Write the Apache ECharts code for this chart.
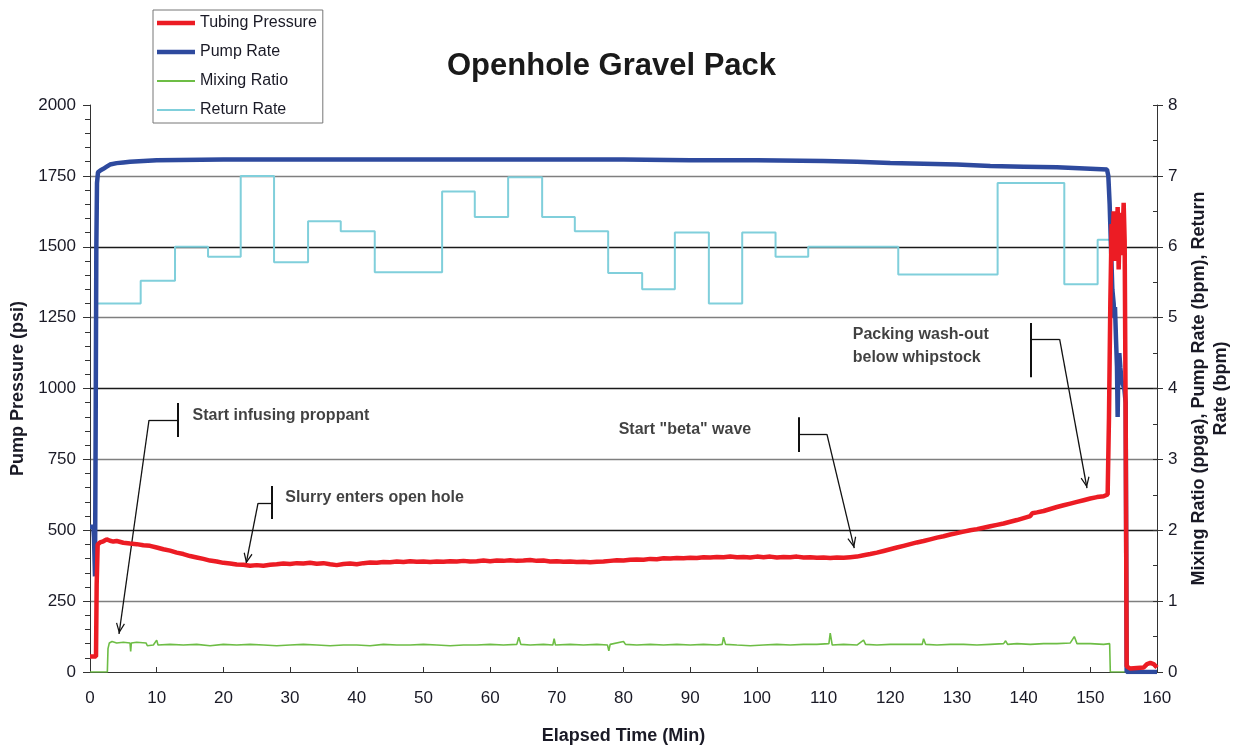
<!DOCTYPE html>
<html>
<head>
<meta charset="utf-8">
<script src="https://cdn.jsdelivr.net/npm/echarts@6/dist/echarts.min.js"></script>
<style>
  html, body { margin: 0; padding: 0; background: #ffffff; }
  #chart { width: 1235px; height: 746px; }
</style>
</head>
<body>
<div id="chart"></div>
<script>
// ---- Treatment record: [elapsed minutes, value] ----
const seriesNames = ['Tubing Pressure', 'Pump Rate', 'Mixing Ratio', 'Return Rate'];

// Tubing pressure, psi (left axis)
const tubingPressure = [
  [0,55],[0.9,55],[1.0,310],[1.15,450],[1.5,457],[2,461],[2.5,468],[3,463],[3.5,460],[4,462],
  [5,456],[6,453],[7,451],[8,447],[9,445],[10,439],[11,433],[12,428],[13,421],[14,416],
  [15,409],[16,404],[17,399],[18,393],[19,390],[20,385],[21,383],[22,379],[23,378],[24,375],
  [25,377],[26,375],[27,378],[28,380],[29,383],[30,381],[31,384],[32,383],[33,385],[34,382],
  [35,384],[36,380],[37,377],[38,381],[39,383],[40,380],[41,384],[42,386],[43,385],[44,388],
  [45,387],[46,390],[47,388],[48,391],[49,389],[50,390],[51,388],[52,390],[53,389],[54,391],
  [55,390],[56,392],[57,390],[58,391],[59,393],[60,391],[61,393],[62,392],[63,394],[64,392],
  [65,393],[66,395],[67,392],[68,393],[69,390],[70,391],[71,389],[72,390],[73,388],[74,389],
  [75,387],[76,389],[77,390],[78,392],[79,394],[80,393],[81,396],[82,397],[83,396],[84,399],
  [85,398],[86,401],[87,400],[88,402],[89,401],[90,403],[91,402],[92,405],[93,404],[94,406],
  [95,405],[96,407],[97,405],[98,406],[99,404],[100,407],[101,405],[102,407],[103,404],[104,406],
  [105,405],[106,407],[107,404],[108,405],[109,403],[110,404],[111,402],[112,404],[113,403],[114,405],
  [115,407],[116,412],[117,416],[118,421],[119,427],[120,433],[121,439],[122,445],[123,451],[124,457],
  [125,462],[126,468],[127,474],[128,479],[129,485],[130,490],[131,495],[132,500],[133,504],[134,509],
  [135,514],[136,519],[137,524],[138,530],[139,536],[140,543],[141,550],[141.3,560],[142,563],[143,568],
  [144,575],[145,582],[146,588],[147,594],[148,600],[149,606],[150,612],[151,617],[152,620],[152.6,626],
  [152.8,900],[153.0,1300],[153.2,1580],[153.35,1510],[153.5,1625],[153.65,1450],[153.8,1600],[153.95,1500],
  [154.1,1640],[154.25,1420],[154.4,1560],[154.55,1470],[154.7,1620],[154.85,1540],[155.0,1655],[155.15,1520],
  [155.3,900],[155.45,20],[156,12],[157,14],[158,16],[158.5,28],[159,32],[159.5,28],[160,16]
];

// Pump rate, bpm (right axis)
const pumpRate = [
  [0,2.05],[0.5,2.05],[0.6,1.9],[0.75,1.35],[0.85,3.5],[0.95,6.0],[1.05,6.9],[1.2,7.05],[1.6,7.08],[2,7.1],
  [2.5,7.13],[3,7.16],[4,7.18],[5,7.19],[6,7.2],[8,7.21],[10,7.22],[20,7.23],[30,7.23],[40,7.23],
  [50,7.23],[60,7.23],[70,7.23],[80,7.23],[90,7.22],[100,7.22],[110,7.21],[115,7.2],[120,7.18],[125,7.17],
  [130,7.16],[135,7.14],[140,7.13],[145,7.12],[150,7.1],[152.5,7.09],[152.7,7.0],[152.9,6.6],[153.1,6.0],[153.3,5.4],
  [153.5,5.2],[153.6,5.0],[153.7,5.15],[153.85,4.7],[154.0,4.3],[154.1,3.6],[154.2,4.3],[154.35,4.5],[154.5,4.3],[154.7,4.1],
  [154.9,4.05],[155.1,4.0],[155.3,3.8],[155.45,0],[160,0]
];

// Mixing ratio, ppga (right axis)
const mixingRatio = [
  [0,0],[2.6,0],[2.7,0.33],[2.9,0.41],[3.3,0.43],[4,0.41],[5,0.42],[6,0.41],[6.1,0.29],[6.2,0.41],
  [7,0.42],[8.4,0.41],[8.6,0.37],[9.5,0.38],[10,0.45],[10.2,0.38],[12,0.39],[14,0.38],[16,0.39],[18,0.37],
  [20,0.39],[22,0.38],[24,0.39],[26,0.38],[28,0.37],[30,0.38],[32,0.39],[34,0.38],[36,0.37],[38,0.38],
  [40,0.38],[42,0.37],[44,0.39],[46,0.38],[48,0.38],[50,0.39],[52,0.38],[54,0.37],[56,0.38],[58,0.38],
  [60,0.39],[62,0.38],[64,0.39],[64.3,0.49],[64.6,0.39],[66,0.38],[68,0.39],[69.4,0.38],[69.6,0.47],[69.8,0.38],
  [72,0.39],[74,0.38],[76,0.39],[77.6,0.38],[77.8,0.3],[78,0.39],[80,0.43],[80.3,0.39],[82,0.38],[84,0.39],
  [86,0.38],[88,0.39],[90,0.38],[92,0.39],[94,0.38],[94.8,0.39],[95,0.49],[95.3,0.39],[97,0.38],[99,0.37],
  [101,0.38],[103,0.39],[105,0.38],[107,0.39],[109,0.39],[110.8,0.4],[111,0.55],[111.3,0.38],[113,0.39],[115,0.38],
  [116,0.45],[116.3,0.39],[118,0.38],[120,0.39],[122,0.39],[124.8,0.39],[125,0.47],[125.3,0.39],[127,0.38],[129,0.39],
  [131,0.39],[133,0.38],[135,0.39],[137,0.4],[137.3,0.44],[137.6,0.39],[139,0.4],[141,0.39],[143,0.4],[145,0.4],
  [147,0.41],[147.6,0.5],[148,0.4],[150,0.4],[152,0.39],[152.9,0.4],[153,0],[160,0]
];

// Return rate, bpm (right axis) - each value holds until the next time
const returnRate = [
  [1.0,5.2],[7.6,5.52],[12.75,6.0],[17.7,5.86],[22.6,7.0],[27.6,5.78],[32.7,6.36],[37.6,6.22],
  [42.7,5.64],[52.8,6.78],[57.7,6.42],[62.7,6.98],[67.8,6.42],[72.7,6.22],[77.7,5.63],[82.8,5.4],
  [87.7,6.2],[92.8,5.2],[97.8,6.2],[102.8,5.86],[107.7,6.0],[121.2,5.61],[136.1,6.9],[146.1,5.47],
  [151.1,6.1],[153.0,6.1]
];

// Event notes, in [minutes, psi]
const calloutText = [
  'Start infusing proppant',
  'Slurry enters open hole',
  'Start "beta" wave',
  'Packing wash-out\nbelow whipstock'
];
const calloutTextAt = [[15.3, 906], [29.2, 614], [79.2, 854], [114.3, 1148]];
const calloutBar    = [[13.2, 949, 829], [27.3, 656, 540], [106.3, 899, 776], [141.1, 1231, 1040]];
const calloutBend   = [[8.85, 889], [25.2, 596], [110.5, 839], [145.4, 1174]];
const calloutTip    = [[4.35, 134], [23.4, 381], [114.6, 437], [149.5, 649]];

// ---- Styling ----
const FONT = '"Liberation Sans", Arial, Helvetica, sans-serif';
const TEXT = '#1a1a26';
const AXIS = '#333333';
const GRID_GREY = '#7f7f7f';
const GRID_DARK = '#1a1a1a';
const NONE = 'rgba(0,0,0,0)';
// one colour per horizontal line 0, 250, ..., 2000
const gridColors = [NONE, GRID_GREY, GRID_DARK, GRID_GREY, GRID_DARK, GRID_GREY, GRID_DARK, GRID_GREY, NONE];

const COLORS = {
  'Tubing Pressure': '#ec1c24',
  'Pump Rate': '#2e4a9e',
  'Mixing Ratio': '#6dbd45',
  'Return Rate': '#80cfdb'
};
const WIDTHS = { 'Tubing Pressure': 4.5, 'Pump Rate': 4.5, 'Mixing Ratio': 1.6, 'Return Rate': 2 };

// plain horizontal bar legend sample inside a 38 x 14 box
function legendIcon(th) {
  const y0 = 7 - th / 2, y1 = 7 + th / 2;
  return 'path://M0,0 L0.01,0 L0,0.01 Z M0,' + y0 + ' L38,' + y0 + ' L38,' + y1 + ' L0,' + y1 +
         ' Z M38,14 L37.99,14 L38,13.99 Z';
}

// open arrow head; the tip sits at the symbol centre
const ARROW = 'path://M5,0 L5.02,0.02 L4.98,0.02 Z M5,11 L10,21 L8.8,21.6 L5,14 L1.2,21.6 L0,21 Z';

const calloutLines = [];
calloutText.forEach(function (t, i) {
  const bar = calloutBar[i], bend = calloutBend[i], tip = calloutTip[i];
  calloutLines.push([{ coord: [bar[0], bar[1]], lineStyle: { width: 2 } }, { coord: [bar[0], bar[2]] }]);
  calloutLines.push([{ coord: [bar[0], bend[1]] }, { coord: bend }]);
  calloutLines.push([{ coord: bend }, { coord: tip, symbol: ARROW, symbolSize: [9, 22] }]);
});

function plain(v) { return String(v); }

function lineSeries(name, data, yAxisIndex, z, extra) {
  return Object.assign({
    name: name,
    type: 'line',
    yAxisIndex: yAxisIndex,
    data: data,
    symbol: 'none',
    showSymbol: false,
    silent: true,
    lineStyle: { color: COLORS[name], width: WIDTHS[name] },
    itemStyle: { color: COLORS[name] },
    z: z
  }, extra || {});
}

const chart = echarts.init(document.getElementById('chart'), null, { renderer: 'canvas' });

chart.setOption({
  animation: false,
  backgroundColor: '#ffffff',
  title: {
    text: 'Openhole Gravel Pack',
    left: 442,
    top: 46,
    textStyle: { fontFamily: FONT, fontSize: 31, fontWeight: 'bold', color: '#1a1a1a' }
  },
  legend: {
    data: seriesNames.map(function (n) {
      return { name: n, icon: legendIcon(WIDTHS[n] < 2 ? 2 : WIDTHS[n]), itemStyle: { color: COLORS[n] } };
    }),
    orient: 'vertical',
    left: 153,
    top: 10,
    padding: [5, 6, 5, 4],
    itemWidth: 38,
    itemHeight: 14,
    itemGap: 13,
    borderColor: '#777777',
    borderWidth: 1,
    selectedMode: false,
    textStyle: { fontFamily: FONT, fontSize: 16, color: TEXT }
  },
  grid: { left: 90, right: 78, top: 105, bottom: 74, containLabel: false, outerBoundsMode: 'none' },
  xAxis: {
    type: 'value',
    min: 0, max: 160, interval: 10,
    name: 'Elapsed Time (Min)',
    nameLocation: 'middle',
    nameGap: 55,
    nameTextStyle: { fontFamily: FONT, fontSize: 18, fontWeight: 'bold', color: TEXT },
    axisLine: { show: true, lineStyle: { color: AXIS, width: 1 } },
    axisTick: { show: true, inside: true, length: 5, lineStyle: { color: AXIS } },
    axisLabel: { fontFamily: FONT, fontSize: 17, color: TEXT, margin: 18, formatter: plain },
    splitLine: { show: false }
  },
  yAxis: [
    {
      type: 'value',
      position: 'left',
      min: 0, max: 2000, interval: 250,
      name: 'Pump Pressure (psi)',
      nameLocation: 'middle',
      nameRotate: 90,
      nameGap: 53,
      nameTextStyle: { fontFamily: FONT, fontSize: 18, fontWeight: 'bold', color: TEXT },
      axisLine: { show: true, lineStyle: { color: AXIS, width: 1 } },
      axisTick: { show: true, length: 7, lineStyle: { color: AXIS } },
      minorTick: { show: true, splitNumber: 5, length: 5, lineStyle: { color: AXIS } },
      axisLabel: { fontFamily: FONT, fontSize: 17, color: TEXT, margin: 14, formatter: plain },
      splitLine: { show: true, lineStyle: { color: gridColors, width: 1.3 } }
    },
    {
      type: 'value',
      position: 'right',
      min: 0, max: 8, interval: 1,
      name: 'Mixing Ratio (ppga), Pump Rate (bpm), Return\nRate (bpm)',
      nameLocation: 'middle',
      nameRotate: 90,
      nameGap: 26,
      nameTextStyle: { fontFamily: FONT, fontSize: 18, fontWeight: 'bold', color: TEXT, lineHeight: 22, align: 'center' },
      axisLine: { show: true, lineStyle: { color: AXIS, width: 1 } },
      axisTick: { show: true, length: 6, lineStyle: { color: AXIS } },
      axisLabel: { fontFamily: FONT, fontSize: 17, color: TEXT, margin: 11, formatter: plain },
      splitLine: { show: false }
    },
    {
      // inner half-unit ticks on the right-hand scale
      type: 'value',
      position: 'right',
      min: 0, max: 8, interval: 0.5,
      axisLine: { show: false },
      axisTick: { show: true, inside: true, length: 4, lineStyle: { color: AXIS } },
      axisLabel: { show: false },
      splitLine: { show: false }
    }
  ],
  series: [
    lineSeries('Return Rate', returnRate, 1, 2, { step: 'end' }),
    lineSeries('Mixing Ratio', mixingRatio, 1, 3),
    lineSeries('Pump Rate', pumpRate, 1, 4),
    lineSeries('Tubing Pressure', tubingPressure, 0, 5),
    {
      name: 'notes',
      type: 'scatter',
      yAxisIndex: 0,
      silent: true,
      symbolSize: 1,
      itemStyle: { color: NONE },
      data: calloutText.map(function (t, i) { return { name: t, value: calloutTextAt[i] }; }),
      label: {
        show: true,
        position: 'right',
        distance: 0,
        formatter: function (p) { return p.name; },
        fontFamily: FONT,
        fontSize: 16,
        fontWeight: 'bold',
        color: '#111111',
        textBorderWidth: 0,
        lineHeight: 23
      },
      markLine: {
        silent: true,
        symbol: ['none', 'none'],
        label: { show: false },
        lineStyle: { color: '#111111', width: 1.3, type: 'solid' },
        emphasis: { disabled: true },
        data: calloutLines
      },
      z: 6
    }
  ]
});
</script>
</body>
</html>
